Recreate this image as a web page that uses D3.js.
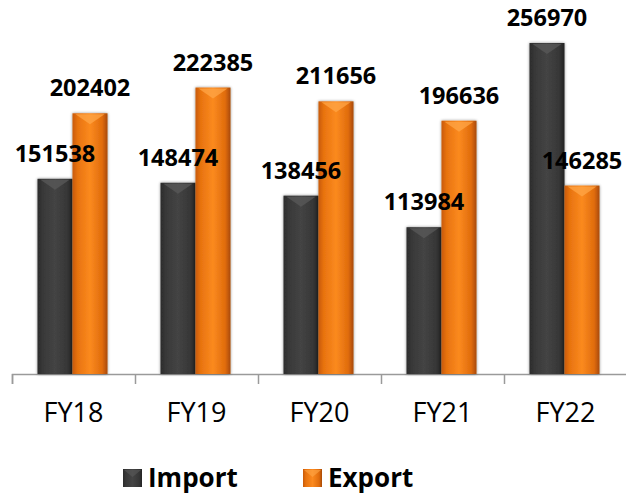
<!DOCTYPE html>
<html>
<head>
<meta charset="utf-8">
<script src="https://cdn.jsdelivr.net/npm/d3@7"></script>
<style>
    body { margin: 0; background: #fff; }
    svg { display: block; font-family: "Open Sans", sans-serif; }
</style>
</head>
<body>
<div id="chart"></div>
<script>
/**
 * Import / Export by financial year
 */

const YEARS = ["FY18", "FY19", "FY20", "FY21", "FY22"];
const SERIES = ["Import", "Export"];
const IMPORT = [151538, 148474, 138456, 113984, 256970];
const EXPORT = [202402, 222385, 211656, 196636, 146285];

const VALUES = { Import: IMPORT, Export: EXPORT };

const createChart = () => {
    const width = 626;
    const height = 495;
    const baseY = 374;

    const svg = d3.select("#chart").append("svg")
        .attr("width", width)
        .attr("height", height);

    const defs = svg.append("defs");

    // side-to-side shading for the rounded look
    const grad = (id, stops) => {
        const g = defs.append("linearGradient").attr("id", id)
            .attr("x1", "0%").attr("x2", "100%").attr("y1", "0%").attr("y2", "0%");
        stops.forEach(([o, c]) => g.append("stop").attr("offset", o).attr("stop-color", c));
    };
    grad("g-Import", [["0%", "#2b2b2b"], ["15%", "#383838"], ["50%", "#444444"], ["85%", "#363636"], ["100%", "#242424"]]);
    grad("g-Export", [["0%", "#c85a08"], ["15%", "#e8730f"], ["50%", "#fb8a1f"], ["85%", "#e06c0c"], ["100%", "#a84a06"]]);

    const shadow = defs.append("filter").attr("id", "shadow")
        .attr("x", "-20%").attr("y", "-20%").attr("width", "140%").attr("height", "140%");
    shadow.append("feGaussianBlur").attr("in", "SourceAlpha").attr("stdDeviation", 1.5);
    shadow.append("feOffset").attr("dx", 0).attr("dy", 0).attr("result", "b");
    shadow.append("feComponentTransfer").append("feFuncA").attr("type", "linear").attr("slope", 0.45);
    const merge = shadow.append("feMerge");
    merge.append("feMergeNode");
    merge.append("feMergeNode").attr("in", "SourceGraphic");

    const topColor = { Import: "#5a5a5a", Export: "#ffa647" };

    const x = d3.scaleBand()
        .domain(YEARS)
        .range([12, 627]);

    const xs = d3.scaleBand()
        .domain(SERIES)
        .range([x.bandwidth() / 2 - 36, x.bandwidth() / 2 + 34]);

    const y = d3.scaleLinear()
        .domain([0, 256970])
        .range([baseY, 43]);

    // axis line with ticks at category boundaries
    const edge = d3.scaleLinear().domain([0, YEARS.length]).range(x.range());
    const axis = svg.append("g")
        .attr("transform", `translate(0,${baseY})`)
        .call(d3.axisBottom(edge).tickValues(d3.range(YEARS.length + 1)).tickSize(10).tickFormat(""));
    axis.select(".domain").attr("stroke", "#9a9a9a").attr("stroke-width", 1.5);
    axis.selectAll(".tick line").attr("stroke", "#9a9a9a").attr("stroke-width", 1.5);

    svg.append("g").selectAll("text")
        .data(YEARS)
        .join("text")
        .attr("x", d => x(d) + x.bandwidth() / 2)
        .attr("y", 422)
        .attr("text-anchor", "middle")
        .attr("font-size", 27)
        .attr("fill", "#000")
        .text(d => d);

    const rows = YEARS.flatMap((year, i) => SERIES.map(s => ({ year, s, v: VALUES[s][i] })));

    const bars = svg.append("g").selectAll("g")
        .data(rows)
        .join("g")
        .attr("transform", d => `translate(${x(d.year) + xs(d.s)},0)`);

    bars.append("rect")
        .attr("x", 0)
        .attr("width", xs.bandwidth())
        .attr("y", d => y(d.v))
        .attr("height", d => baseY - y(d.v))
        .attr("fill", d => `url(#g-${d.s})`)
        .attr("filter", "url(#shadow)");

    // bevelled top
    bars.append("path")
        .attr("d", d => {
            const w = xs.bandwidth(), t = y(d.v);
            return `M3,${t + 1}L${w - 3},${t + 1}L${w / 2},${t + 11}Z`;
        })
        .attr("fill", d => topColor[d.s])
        .attr("opacity", 0.75);

    svg.append("g").selectAll("text")
        .data(rows)
        .join("text")
        .attr("x", d => x(d.year) + xs(d.s) + xs.bandwidth() / 2)
        .attr("y", d => y(d.v) - 17)
        .attr("text-anchor", "middle")
        .attr("font-size", 23.5)
        .attr("font-weight", 700)
        .attr("fill", "#000")
        .text(d => d.v);

    // legend
    const legendX = { Import: 123, Export: 303 };
    const legend = svg.append("g").selectAll("g")
        .data(SERIES)
        .join("g")
        .attr("transform", d => `translate(${legendX[d]},469)`);

    legend.append("rect")
        .attr("width", 19)
        .attr("height", 18)
        .attr("fill", d => `url(#g-${d})`);
    legend.append("path")
        .attr("d", "M1,1L18,1L9.5,8Z")
        .attr("fill", d => topColor[d])
        .attr("opacity", 0.6);

    legend.append("text")
        .attr("x", 25)
        .attr("y", 18)
        .attr("font-size", 26)
        .attr("font-weight", 700)
        .attr("fill", "#000")
        .text(d => d);
};

window.addEventListener("DOMContentLoaded", () => {
    createChart();
}, {once: true});
</script>
</body>
</html>
